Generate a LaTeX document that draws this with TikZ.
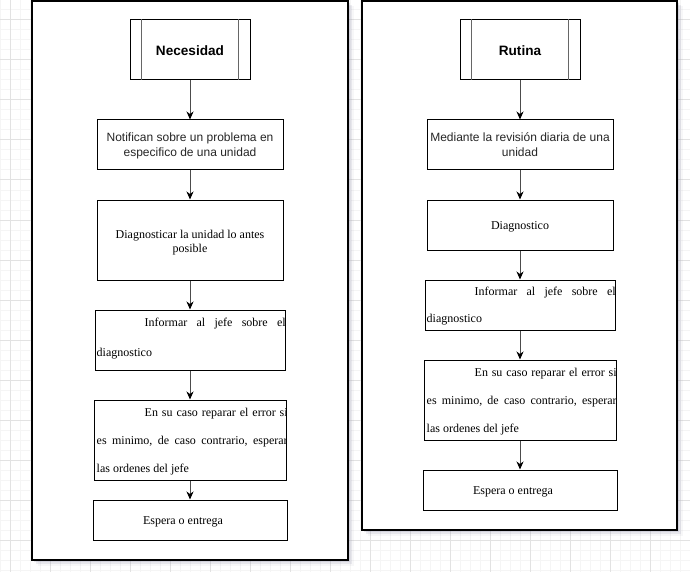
\documentclass[tikz,border=0pt]{standalone}
\usepackage{fontspec}
\setmainfont{Liberation Serif}
\newfontfamily\helv{Liberation Sans}
\usetikzlibrary{arrows.meta,calc,shadows}

\definecolor{gridminor}{RGB}{245,245,245}
\definecolor{gridmajor}{RGB}{226,226,226}
\definecolor{shadowc}{RGB}{120,120,150}

\tikzset{
  lane/.style={draw=black, line width=1.2pt, fill=white, inner sep=0pt,
    drop shadow={shadow xshift=2pt, shadow yshift=-2pt, opacity=.18, fill=shadowc},
    drop shadow={shadow xshift=4pt, shadow yshift=-4pt, opacity=.12, fill=shadowc},
    drop shadow={shadow xshift=5.5pt, shadow yshift=-5.5pt, opacity=.06, fill=shadowc}},
  proc/.style={draw=black, line width=1pt, fill=white, inner sep=0pt, align=center,
    minimum width=186pt},
  sans/.style={font=\helv\fontsize{12}{15}\selectfont, text=black!85,
    text height=26pt, text depth=2pt},
  serif/.style={font=\fontsize{12}{14}\selectfont},
  serifone/.style={serif, text height=11pt, text depth=2pt},
  seriftwo/.style={serif, text height=26pt, text depth=2pt},
  subproc/.style={proc, minimum width=120pt, minimum height=60pt,
    font=\helv\bfseries\fontsize{13.6}{16}\selectfont, text height=14pt, text depth=2pt},
  subline/.style={draw=black!60, line width=1.5pt},
  jline/.style={inner sep=0pt, anchor=base west, font=\fontsize{12}{14}\selectfont},
  flow/.style={draw=black!70, line width=1pt,
    -{Stealth[length=8pt, width=7pt, inset=2.5pt, color=black]}},
}

\begin{document}
\begin{tikzpicture}[x=1pt, y=-1pt]
\useasboundingbox (0,0) rectangle (690,572);
\fill[white] (0,0) rectangle (690,572);

% background grid
\foreach \gx in {0,10,...,690} \draw[gridminor, line width=1pt] (\gx,0) -- (\gx,572);
\foreach \gy in {0,10,...,570} \draw[gridminor, line width=1pt] (0,\gy) -- (690,\gy);
\foreach \gx in {10,50,...,690} \draw[gridmajor, line width=1pt] (\gx,0) -- (\gx,572);
\foreach \gy in {20,60,...,570} \draw[gridmajor, line width=1pt] (0,\gy) -- (690,\gy);

% two lanes
\node[lane, minimum width=316pt, minimum height=559pt] (laneL) at (190,280.5) {};
\node[lane, minimum width=315pt, minimum height=529pt] (laneR) at (519.5,265.5) {};

% ---- left column: Necesidad ----
\node[subproc] (nec) at (190,50) {Necesidad};
\draw[subline] ([xshift=12pt]nec.north west) -- ([xshift=12pt]nec.south west);
\draw[subline] ([xshift=-12pt]nec.north east) -- ([xshift=-12pt]nec.south east);

\node[proc, sans, minimum height=50pt] (l1) at (190,145)
  {Notifican sobre un problema en\\especifico de una unidad};
\node[proc, seriftwo, minimum height=80pt] (l2) at (190,240)
  {Diagnosticar la unidad lo antes\\posible};
\node[proc, minimum width=190pt, minimum height=60pt] (l3) at (190,340) {};
\node[proc, minimum width=192pt, minimum height=80pt] (l4) at (190,440) {};
\node[proc, serifone, minimum width=194pt, minimum height=40pt] (l5) at (190,520)
  {Espera o entrega\hspace{14pt}};

\begin{scope}
  \clip ([xshift=-0.6pt]l3.north west) rectangle ([xshift=-0.6pt]l3.south east);
  \node[jline] (l3a) at ($(l3.north west)+(50,17)$)
    {\hbox to 141pt{Informar\hfill al\hfill jefe\hfill sobre\hfill el}};
  \node[jline] (l3b) at ($(l3.north west)+(2,47)$) {diagnostico};
\end{scope}
\begin{scope}
  \clip ([xshift=-0.6pt]l4.north west) rectangle ([xshift=-0.6pt]l4.south east);
  \node[jline] (l4a) at ($(l4.north west)+(51,17)$)
    {\hbox to 143pt{En\hfill su\hfill caso\hfill reparar\hfill el\hfill error\hfill si}};
  \node[jline] (l4b) at ($(l4.north west)+(3,45)$)
    {\hbox to 191pt{es\hfill minimo,\hfill de\hfill caso\hfill contrario,\hfill esperar}};
  \node[jline] (l4c) at ($(l4.north west)+(3,73)$) {las ordenes del jefe};
\end{scope}

\draw[flow] (nec.south) -- (l1.north);
\draw[flow] (l1.south) -- (l2.north);
\draw[flow] (l2.south) -- (l3.north);
\draw[flow] (l3.south) -- (l4.north);
\draw[flow] (l4.south) -- (l5.north);

% ---- right column: Rutina ----
\node[subproc] (rut) at (520,50) {Rutina};
\draw[subline] ([xshift=12pt]rut.north west) -- ([xshift=12pt]rut.south west);
\draw[subline] ([xshift=-12pt]rut.north east) -- ([xshift=-12pt]rut.south east);

\node[proc, sans, minimum height=50pt] (r1) at (520,145)
  {Mediante la revisión diaria de una\\unidad};
\node[proc, serifone, minimum height=50pt] (r2) at (520,225) {Diagnostico};
\node[proc, minimum width=190pt, minimum height=50pt] (r3) at (520,305) {};
\node[proc, minimum width=192pt, minimum height=80pt] (r4) at (520,400) {};
\node[proc, serifone, minimum width=194pt, minimum height=40pt] (r5) at (520,490)
  {Espera o entrega\hspace{14pt}};

\begin{scope}
  \clip ([xshift=-0.6pt]r3.north west) rectangle ([xshift=-0.6pt]r3.south east);
  \node[jline] (r3a) at ($(r3.north west)+(50,16)$)
    {\hbox to 141pt{Informar\hfill al\hfill jefe\hfill sobre\hfill el}};
  \node[jline] (r3b) at ($(r3.north west)+(2,43)$) {diagnostico};
\end{scope}
\begin{scope}
  \clip ([xshift=-0.6pt]r4.north west) rectangle ([xshift=-0.6pt]r4.south east);
  \node[jline] (r4a) at ($(r4.north west)+(51,17)$)
    {\hbox to 142pt{En\hfill su\hfill caso\hfill reparar\hfill el\hfill error\hfill si}};
  \node[jline] (r4b) at ($(r4.north west)+(3,45)$)
    {\hbox to 190pt{es\hfill minimo,\hfill de\hfill caso\hfill contrario,\hfill esperar}};
  \node[jline] (r4c) at ($(r4.north west)+(3,73)$) {las ordenes del jefe};
\end{scope}

\draw[flow] (rut.south) -- (r1.north);
\draw[flow] (r1.south) -- (r2.north);
\draw[flow] (r2.south) -- (r3.north);
\draw[flow] (r3.south) -- (r4.north);
\draw[flow] (r4.south) -- (r5.north);
\end{tikzpicture}
\end{document}
